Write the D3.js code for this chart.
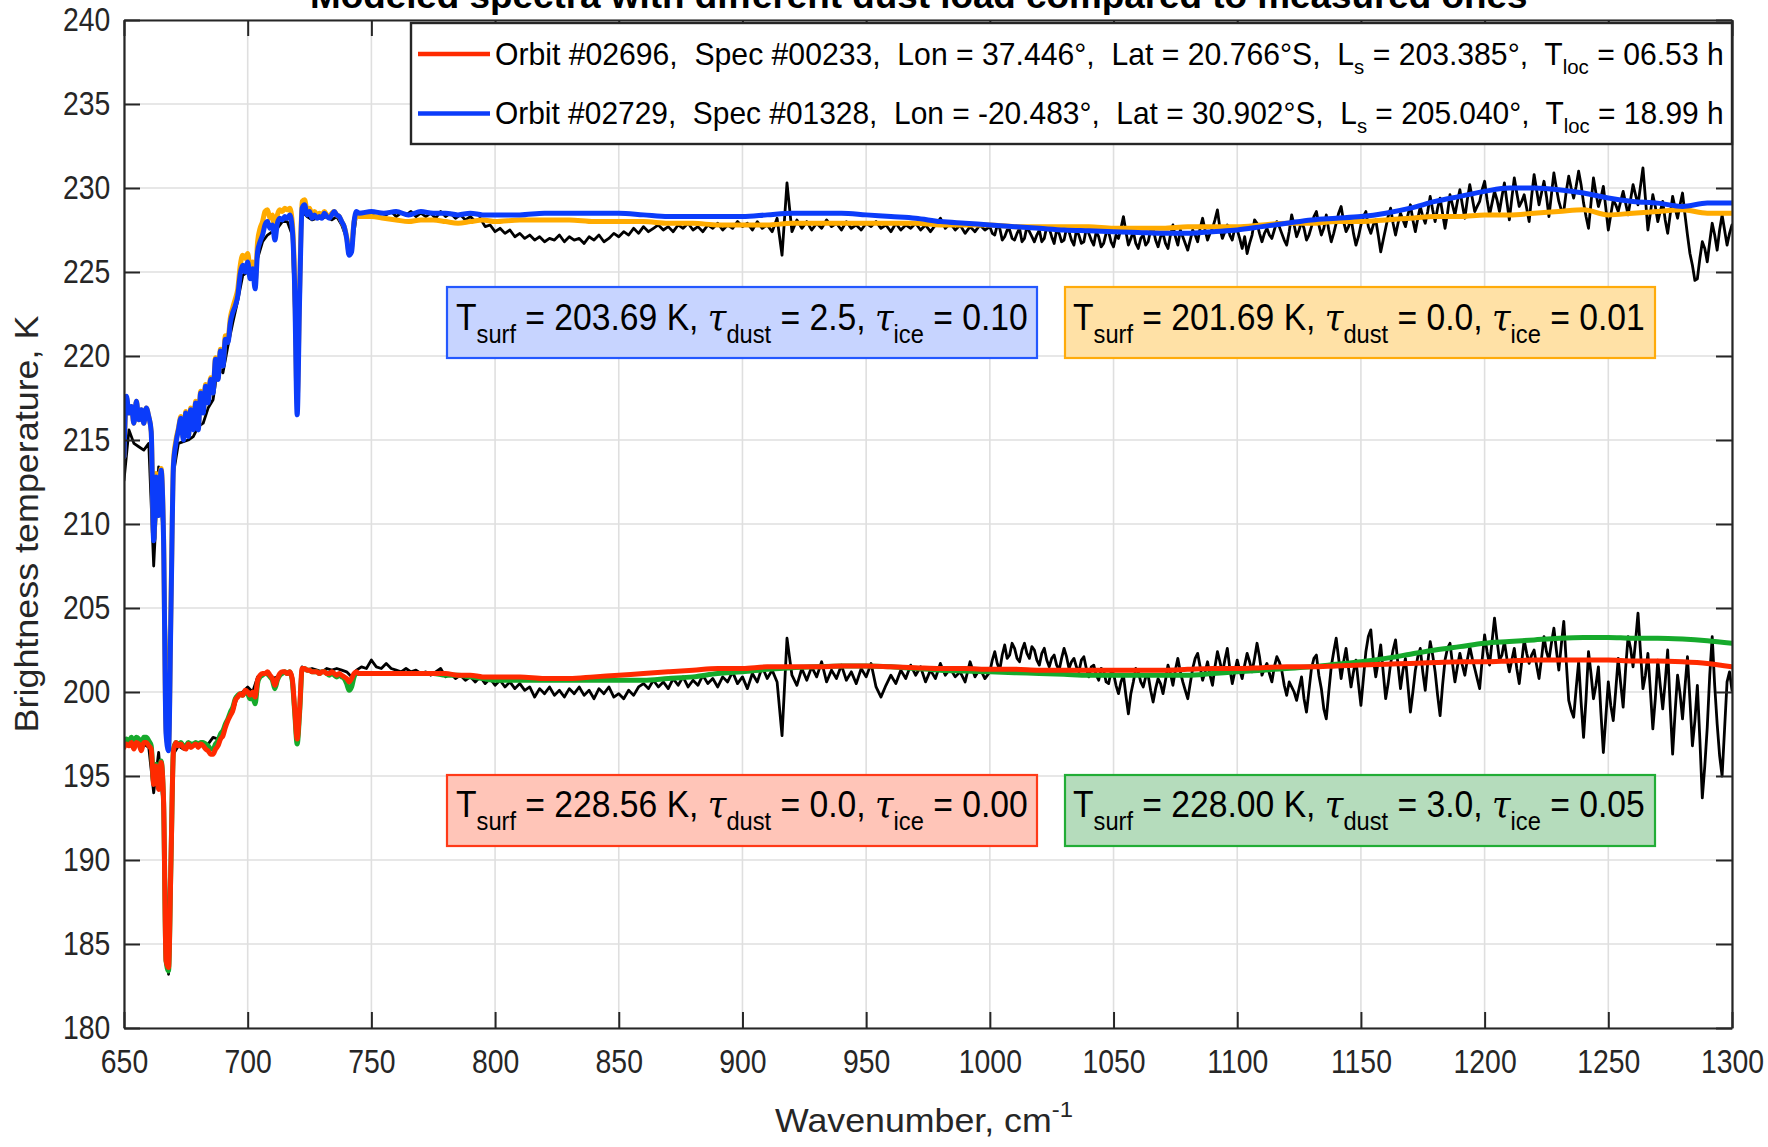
<!DOCTYPE html>
<html>
<head>
<meta charset="utf-8">
<script src="https://cdn.jsdelivr.net/npm/d3@7"></script>
<style>
  html, body { margin: 0; padding: 0; background: #fff; }
  svg text { font-family: "Liberation Sans", Arial, Helvetica, sans-serif; white-space: pre; }
</style>
</head>
<body>
<svg id="chart" width="1768" height="1147"></svg>
<script>
// ---------------------------------------------------------------------------
// Axis ticks
const xTickValues = [650, 700, 750, 800, 850, 900, 950, 1000, 1050, 1100, 1150, 1200, 1250, 1300];
const yTickValues = [180, 185, 190, 195, 200, 205, 210, 215, 220, 225, 230, 235, 240];

// Wavenumber grids (cm^-1): models are sampled finely in the CO2 band, coarser above it;
// measurements every 2 cm^-1 up to 1000, every 1 cm^-1 above
const modelNu = [...d3.range(650, 746, 1), ...d3.range(750, 801, 5), ...d3.range(810, 1301, 10)];
const measNu = [...d3.range(650, 1000, 2), ...d3.range(1000, 1301, 1)];

// Orbit #02729 model, tau_dust = 2.5 (blue)
const modelBlue = [
  214.0, 217.6, 216.6, 217.0, 216.0, 217.3, 216.2, 216.8, 216.0, 216.9,
  216.4, 215.5, 209.0, 212.8, 210.5, 213.2, 209.0, 197.5, 196.5, 205.0,
  213.5, 214.8, 215.6, 216.3, 215.0, 216.6, 215.2, 216.8, 215.6, 217.2,
  215.6, 217.8, 216.6, 218.2, 217.2, 218.6, 217.8, 219.8, 218.6, 220.3,
  219.4, 221.0, 220.8, 222.0, 222.6, 223.0, 223.6, 224.9, 225.4, 225.0,
  225.6, 224.6, 225.2, 224.0, 226.2, 226.8, 227.2, 227.8, 228.0, 227.6,
  227.8, 226.9, 227.9, 228.2, 228.1, 228.3, 228.2, 228.4, 227.6, 224.0,
  216.5, 223.5, 228.8, 229.0, 228.4, 228.6, 228.2, 228.4, 228.2, 228.3,
  228.2, 228.5, 228.3, 228.2, 228.4, 228.6, 228.4, 228.3, 228.0, 227.7,
  227.0, 226.0, 226.2, 228.0, 228.6, 228.5,
  228.6, 228.5, 228.6, 228.4, 228.6, 228.5, 228.5, 228.4, 228.5, 228.4, 228.4,
  228.4, 228.5, 228.5, 228.5, 228.5, 228.4, 228.3, 228.3, 228.3, 228.3,
  228.4, 228.5, 228.5, 228.5, 228.4, 228.3, 228.2, 228.0, 227.9, 227.8,
  227.7, 227.6, 227.5, 227.45, 227.4, 227.35, 227.3, 227.3, 227.4, 227.5,
  227.7, 227.9, 228.1, 228.2, 228.3, 228.5, 228.8, 229.2, 229.5, 229.8,
  230.0, 230.0, 229.9, 229.7, 229.4, 229.2, 229.1, 228.9, 229.1, 229.1
];

// Orbit #02729 model, tau_dust = 0.0 (orange)
const modelOrange = [
  214.0, 217.5, 216.6, 217.0, 216.0, 217.3, 216.2, 216.8, 216.0, 216.9,
  216.4, 215.5, 209.2, 213.0, 210.6, 213.3, 209.2, 197.8, 196.8, 205.3,
  213.7, 215.0, 215.7, 216.4, 215.1, 216.7, 215.3, 216.9, 215.7, 217.3,
  215.7, 217.9, 216.7, 218.3, 217.3, 218.7, 217.9, 219.9, 218.7, 220.4,
  219.6, 221.2, 221.0, 222.3, 222.9, 223.4, 224.0, 225.4, 226.0, 225.8,
  226.1, 225.2, 225.6, 224.4, 226.8, 227.6, 228.0, 228.6, 228.7, 228.2,
  228.4, 227.4, 228.4, 228.7, 228.6, 228.8, 228.7, 228.8, 228.0, 224.5,
  217.5, 224.0, 229.2, 229.3, 228.7, 228.8, 228.4, 228.6, 228.4, 228.5,
  228.4, 228.6, 228.4, 228.3, 228.5, 228.6, 228.4, 228.3, 228.0, 227.7,
  227.1, 226.2, 226.5, 228.0, 228.4, 228.3,
  228.3, 228.2, 228.1, 228.0, 228.1, 228.1, 228.0, 227.9, 228.0, 228.1, 228.0,
  228.1, 228.1, 228.1, 228.0, 228.0, 228.0, 227.9, 227.9, 227.8, 227.8,
  227.8, 227.9, 227.9, 227.9, 227.9, 227.9, 227.9, 227.8, 227.8, 227.8,
  227.7, 227.7, 227.7, 227.7, 227.6, 227.6, 227.6, 227.7, 227.7, 227.7,
  227.8, 227.9, 227.9, 228.0, 228.0, 228.1, 228.2, 228.3, 228.3, 228.4,
  228.4, 228.5, 228.6, 228.7, 228.4, 228.5, 228.6, 228.7, 228.5, 228.5
];

// Orbit #02696 model, tau_dust = 0.0 (red)
const modelRed = [
  196.7, 196.9, 196.8, 197.0, 196.6, 197.0, 196.9, 196.5, 197.0, 197.0,
  196.8, 196.6, 194.5, 195.6, 194.2, 195.8, 193.5, 184.0, 183.6, 190.0,
  196.5, 197.0, 196.8, 196.9, 196.7, 196.6, 196.9, 196.7, 196.8, 196.9,
  196.7, 196.9, 196.8, 196.6, 196.5, 196.3, 196.3, 196.6, 196.8, 197.2,
  197.4, 197.9, 198.3, 198.6, 198.9, 199.5, 199.7, 199.9, 199.8, 200.1,
  200.0, 199.8, 200.0, 199.7, 200.7, 201.0, 201.1, 201.1, 201.2, 201.0,
  200.8, 200.4, 200.8, 201.1, 201.2, 201.2, 201.1, 201.2, 200.8, 199.0,
  197.2, 199.0, 201.4, 201.4, 201.3, 201.3, 201.2, 201.2, 201.2, 201.1,
  201.2, 201.2, 201.1, 201.1, 201.2, 201.1, 201.0, 201.1, 201.0, 200.9,
  200.8, 200.6, 200.8, 201.1, 201.2, 201.1,
  201.1, 201.1, 201.1, 201.1, 201.1, 201.1, 201.1, 201.0, 201.0, 200.9, 200.9,
  200.9, 200.8, 200.8, 200.9, 201.0, 201.1, 201.2, 201.3, 201.4, 201.4,
  201.5, 201.5, 201.5, 201.55, 201.55, 201.5, 201.45, 201.4, 201.4, 201.35,
  201.35, 201.3, 201.3, 201.3, 201.3, 201.3, 201.3, 201.35, 201.4, 201.4,
  201.45, 201.5, 201.5, 201.55, 201.6, 201.65, 201.7, 201.75, 201.8, 201.8,
  201.85, 201.9, 201.9, 201.9, 201.9, 201.85, 201.85, 201.8, 201.7, 201.5
];

// Orbit #02696 model, tau_dust = 3.0 (green)
const modelGreen = [
  197.0, 197.2, 197.1, 197.3, 197.0, 197.3, 197.2, 196.9, 197.3, 197.3,
  197.1, 196.8, 194.6, 195.7, 194.3, 195.9, 193.4, 184.0, 183.4, 190.0,
  196.6, 197.0, 196.9, 197.0, 196.8, 196.8, 197.0, 196.9, 196.9, 197.0,
  196.9, 197.0, 197.0, 196.9, 196.8, 196.6, 196.6, 196.9, 197.1, 197.5,
  197.7, 198.1, 198.4, 198.8, 199.1, 199.6, 199.8, 199.9, 199.8, 200.0,
  199.9, 199.6, 199.7, 199.3, 200.5, 200.9, 201.0, 201.1, 201.1, 200.9,
  200.7, 200.2, 200.7, 201.0, 201.1, 201.2, 201.1, 201.2, 200.7, 198.8,
  196.9, 198.8, 201.3, 201.4, 201.3, 201.3, 201.2, 201.2, 201.2, 201.1,
  201.2, 201.2, 201.1, 201.0, 201.1, 201.0, 200.9, 201.0, 200.9, 200.8,
  200.5, 200.1, 200.3, 200.9, 201.1, 201.1,
  201.1, 201.1, 201.1, 201.1, 201.1, 201.1, 201.0, 201.0, 200.9, 200.8, 200.7,
  200.7, 200.7, 200.7, 200.7, 200.7, 200.7, 200.8, 200.9, 201.1, 201.2,
  201.35, 201.45, 201.5, 201.55, 201.55, 201.5, 201.4, 201.3, 201.25, 201.2,
  201.15, 201.1, 201.05, 201.0, 201.0, 201.0, 201.0, 201.0, 201.1, 201.2,
  201.3, 201.4, 201.5, 201.65, 201.8, 202.0, 202.25, 202.5, 202.7, 202.9,
  203.0, 203.1, 203.2, 203.25, 203.25, 203.2, 203.2, 203.15, 203.05, 202.9
];

// Measured spectrum, orbit #02729 (black, upper)
const measuredTop = [
  // 650 - 998, every 2 cm^-1
  212.6, 215.6, 214.8, 214.6, 214.4, 214.8, 207.5, 213.4, 209.0, 196.8,
  213.0, 214.8, 214.9, 215.0, 215.2, 215.8, 216.0, 216.9, 217.4, 219.4,
  219.0, 220.6, 222.0, 223.3, 224.8, 225.0, 224.6, 225.8, 226.8, 227.2,
  227.4, 227.6, 228.0, 228.0, 227.2, 217.2, 228.6, 228.3, 228.1, 228.2,
  228.2, 228.3, 228.1, 228.3, 227.8, 227.0, 226.3, 228.4, 228.5, 228.6,
  228.4, 228.6, 228.5, 228.4, 228.6, 228.3, 228.5, 228.4, 228.6, 228.3,
  228.5, 228.3, 228.5, 228.2, 228.6, 228.3, 228.5, 228.2, 228.4, 228.1,
  228.3, 228.0, 228.2, 227.7, 227.8, 227.4, 227.6, 227.3, 227.5, 227.1,
  227.3, 227.0, 227.2, 226.9, 227.1, 226.8, 227.0, 226.9, 227.2, 226.8,
  227.1, 226.9, 227.0, 226.7, 227.1, 226.9, 227.2, 226.8, 227.0, 227.3,
  227.1, 227.4, 227.2, 227.6, 227.3, 227.7, 227.4, 227.6, 227.8, 227.5,
  227.7, 227.4, 227.8, 227.6, 227.9, 227.5, 227.7, 227.4, 227.8, 227.6,
  227.9, 227.5, 227.8, 227.6, 228.0, 227.7, 227.9, 227.5, 228.0, 227.6,
  227.8, 227.4, 228.2, 226.0, 230.3, 227.4, 228.1, 227.6, 228.0, 227.5,
  227.9, 227.6, 228.1, 227.7, 227.9, 227.5, 228.0, 227.6, 227.8, 227.5,
  227.9, 227.7, 228.0, 227.6, 227.8, 227.4, 227.9, 227.5, 227.8, 227.6,
  227.9, 227.5, 227.8, 227.4, 227.8, 228.2, 227.6, 227.9, 227.5, 227.8,
  227.3, 227.7, 227.4, 227.8, 227.5,
  // 1000 - 1300, every 1 cm^-1
  227.7, 227.3, 227.2, 227.8, 227.6, 226.9, 227.1, 227.5, 227.5, 227.0,
  226.9, 227.3, 227.6, 226.8, 227.0, 227.7, 227.4, 227.1, 226.8, 227.2,
  227.5, 226.8, 227.0, 227.7, 227.6, 227.1, 226.7, 227.5, 227.3, 226.8,
  226.9, 227.6, 227.4, 226.9, 226.6, 227.5, 227.2, 226.7, 226.8, 227.6,
  227.3, 226.9, 226.6, 227.4, 227.1, 226.5, 226.7, 227.3, 227.4, 226.8,
  226.5, 227.2, 227.0, 227.6, 228.3, 227.4, 226.6, 227.0, 227.4, 226.7,
  226.4, 227.0, 227.2, 226.6, 226.8, 227.5, 227.6, 226.9, 226.5, 227.1,
  227.3, 226.7, 226.4, 227.2, 227.8, 227.1, 226.6, 227.5, 227.1, 226.7,
  226.3, 226.9, 227.5, 227.2, 226.8, 227.6, 228.2, 227.5, 226.9, 227.3,
  227.6, 228.1, 228.7, 227.6, 227.0, 227.4, 227.8, 227.2, 226.9, 227.6,
  227.5, 227.0, 226.4, 227.1, 226.1, 226.7, 227.2, 228.1, 227.9, 227.3,
  226.8, 227.3, 227.6, 227.2, 227.0, 227.5, 228.0, 227.7, 227.3, 226.9,
  226.6, 227.4, 228.4, 227.8, 227.1, 227.5, 228.0, 227.6, 226.9, 227.2,
  227.7, 228.3, 228.6, 227.8, 227.2, 227.6, 228.4, 227.5, 226.8, 227.3,
  227.9, 228.5, 228.9, 228.0, 227.4, 227.7, 228.2, 227.3, 226.6, 227.1,
  227.8, 228.3, 228.6, 227.7, 227.3, 227.8, 228.1, 227.2, 226.2, 226.9,
  227.6, 228.3, 228.8, 227.9, 227.2, 227.9, 228.5, 228.1, 227.7, 228.4,
  229.0, 228.1, 227.4, 228.2, 228.9, 228.3, 227.9, 228.6, 229.5, 228.7,
  228.0, 228.8, 229.4, 228.5, 227.6, 228.5, 229.6, 229.0, 228.4, 229.2,
  229.9, 229.0, 228.2, 229.3, 230.2, 229.4, 228.6, 228.9, 229.2, 229.9,
  230.4, 229.3, 228.4, 229.1, 229.8, 229.3, 228.6, 229.5, 230.3, 229.2,
  228.1, 229.4, 230.6, 229.7, 228.9, 229.2, 229.6, 228.8, 228.0, 229.5,
  230.8, 229.9, 229.0, 229.7, 230.4, 229.5, 228.3, 229.6, 230.9, 230.0,
  229.2, 228.7, 228.6, 229.8, 230.7, 230.0, 229.4, 230.1, 231.0, 230.2,
  229.1, 228.3, 227.6, 229.1, 230.6, 229.7, 228.9, 229.4, 230.1, 228.8,
  227.5, 228.4, 229.3, 229.0, 228.6, 229.2, 229.8, 229.1, 228.4, 229.3,
  230.2, 229.6, 229.0, 230.1, 231.2, 229.4, 227.5, 228.5, 229.6, 228.9,
  228.0, 228.6, 229.2, 228.1, 227.3, 228.4, 229.5, 228.8, 228.2, 229.0,
  229.7, 228.4, 227.2, 226.1, 225.4, 224.5, 224.6, 225.8, 226.8, 226.4,
  225.6, 226.8, 227.9, 227.2, 226.3, 227.5, 228.4, 227.5, 226.6, 227.3,
  227.8
];

// Measured spectrum, orbit #02696 (black, lower)
const measuredBottom = [
  // 650 - 998, every 2 cm^-1
  196.8, 197.0, 196.7, 197.1, 196.9, 196.7, 194.0, 196.4, 193.0, 183.2,
  196.3, 196.8, 196.6, 196.8, 196.9, 196.8, 196.9, 196.9, 197.3, 197.2,
  197.7, 198.3, 198.8, 199.8, 200.0, 200.3, 200.0, 200.9, 201.1, 201.0,
  200.8, 200.9, 201.1, 201.2, 200.9, 197.0, 201.5, 201.3, 201.4, 201.3,
  201.2, 201.4, 201.3, 201.4, 201.3, 201.2, 200.9, 201.3, 201.5, 201.4,
  201.9, 201.5, 201.4, 201.7, 201.4, 201.3, 201.2, 201.4, 201.2, 201.3,
  201.1, 201.2, 201.0, 201.2, 201.4, 200.9, 201.1, 200.8, 201.0, 200.7,
  200.9, 200.6, 200.9, 200.5, 200.8, 200.4, 200.7, 200.3, 200.6, 200.2,
  200.5, 200.1, 200.3, 199.7, 200.2, 199.9, 200.3, 199.8, 200.1, 199.7,
  200.2, 199.9, 200.3, 199.8, 200.1, 199.6, 200.2, 199.9, 200.3, 199.7,
  199.9, 199.6, 200.1, 199.8, 200.3, 200.5, 200.2, 200.7, 200.3, 200.6,
  200.2, 200.8, 200.4, 200.9, 200.3, 200.7, 200.4, 201.0, 200.5, 200.8,
  200.3, 200.9, 200.6, 201.2, 200.5, 200.9, 200.2, 201.1, 200.6, 201.5,
  200.8, 201.3, 200.6, 197.4, 203.2, 201.0, 200.4, 201.4, 200.7, 201.5,
  200.9, 201.8, 200.6, 201.3, 200.8, 201.6, 200.7, 201.2, 200.5, 201.4,
  200.9, 201.7, 200.3, 199.7, 200.4, 201.0, 200.5, 201.3, 200.8, 201.6,
  201.0, 201.5, 200.6, 201.3, 200.8, 201.7, 201.0, 201.4, 200.9, 201.2,
  200.6, 201.8, 200.9, 201.4, 200.8,
  // 1000 - 1300, every 1 cm^-1
  201.2, 201.9, 202.4, 201.7, 201.3, 202.2, 202.8, 202.0, 202.2, 202.9,
  202.6, 202.0, 201.8, 202.5, 202.9, 202.3, 202.0, 202.7, 202.5, 201.9,
  201.6, 202.3, 202.6, 201.9, 201.5, 202.0, 202.2, 201.6, 201.3, 202.0,
  202.6, 202.1, 201.4, 201.8, 202.0, 201.5, 201.2, 201.9, 202.1, 201.4,
  200.9, 201.5, 201.6, 201.0, 200.7, 201.4, 201.3, 200.6, 200.5, 201.2,
  201.1, 200.4, 199.9, 200.6, 201.0, 199.8, 198.7, 199.9, 200.6, 201.4,
  201.2, 200.6, 200.3, 200.9, 201.0, 200.1, 199.4, 200.2, 200.8, 200.5,
  199.9, 200.7, 201.6, 201.1, 200.4, 201.3, 202.0, 201.2, 200.6, 200.1,
  199.6, 200.5, 201.4, 202.0, 202.3, 201.5, 200.7, 201.2, 201.8, 201.0,
  200.4, 201.5, 202.4, 201.8, 201.1, 201.9, 202.6, 201.4, 200.5, 201.2,
  201.9, 201.3, 200.8, 201.6, 202.3, 201.8, 201.2, 202.0, 202.9, 202.1,
  201.0, 201.4, 201.7, 201.1, 200.6, 201.5, 202.1, 201.8, 201.3, 200.4,
  199.8, 200.6, 200.3, 200.0, 199.5, 200.2, 200.9, 199.6, 198.8, 200.1,
  201.4, 202.0, 202.2, 201.0, 200.2, 199.0, 198.4, 200.0, 201.5, 202.4,
  203.2, 202.0, 200.8, 201.8, 202.6, 201.4, 200.3, 201.2, 201.9, 200.5,
  199.2, 200.8, 202.4, 203.3, 203.7, 202.0, 200.9, 201.8, 202.8, 201.2,
  199.6, 200.5, 201.7, 202.5, 203.1, 201.6, 200.2, 201.3, 202.0, 200.4,
  198.8, 200.0, 201.3, 202.1, 202.6, 201.2, 200.1, 201.7, 203.0, 202.2,
  201.2, 199.8, 198.6, 200.4, 201.9, 202.6, 202.9, 201.7, 200.6, 201.5,
  202.3, 201.6, 201.0, 201.9, 202.7, 202.0, 201.4, 200.8, 200.2, 201.9,
  203.4, 202.4, 201.6, 203.0, 204.4, 203.1, 201.9, 202.2, 203.0, 202.0,
  201.2, 201.9, 202.6, 201.4, 200.5, 201.8, 203.1, 202.3, 201.7, 202.2,
  202.5, 201.6, 200.8, 202.0, 203.3, 202.4, 201.9, 202.9, 203.8, 202.5,
  201.3, 202.8, 204.2, 201.8, 199.5, 198.9, 198.5, 200.2, 201.8, 199.4,
  197.3, 199.6, 202.4, 201.1, 199.6, 200.4, 201.5, 198.8, 196.4, 198.5,
  200.6, 199.2, 198.3, 200.1, 202.0, 200.5, 199.1, 201.4, 203.3, 202.6,
  201.5, 203.0, 204.7, 202.4, 200.2, 201.0, 202.3, 200.1, 197.8, 199.6,
  201.9, 200.4, 199.0, 200.6, 202.5, 199.2, 196.3, 198.8, 201.0, 199.9,
  198.4, 200.3, 202.1, 199.5, 196.8, 198.3, 200.4, 197.2, 193.7, 195.6,
  197.9, 201.0, 203.3, 200.4, 198.1, 196.2, 195.0, 197.8, 200.6, 201.2,
  200.1
];

// Legend entries and fitted-parameter labels
const legendEntries = [
  { orbit: "02696", spec: "00233", lon: "37.446", lat: "20.766", ls: "203.385", tloc: "06.53", color: "#ff2a00" },
  { orbit: "02729", spec: "01328", lon: "-20.483", lat: "30.902", ls: "205.040", tloc: "18.99", color: "#0b3cfa" }
];
const fitLabels = [
  { tsurf: "203.69", dust: "2.5", ice: "0.10", fill: "#c7d4ff", stroke: "#2458ff" },
  { tsurf: "201.69", dust: "0.0", ice: "0.01", fill: "#ffe1a6", stroke: "#ffab0a" },
  { tsurf: "228.56", dust: "0.0", ice: "0.00", fill: "#ffc5b8", stroke: "#ff3a18" },
  { tsurf: "228.00", dust: "3.0", ice: "0.05", fill: "#b5dcbc", stroke: "#21ad36" }
];

// ---------------------------------------------------------------------------
const plot = { left: 124, right: 1732, top: 20, bottom: 1028 };
const axisColor = "#262626";
const gridColor = "#dfdfdf";

const x = d3.scaleLinear().domain([650, 1300]).range([plot.left, plot.right]);
const y = d3.scaleLinear().domain([180, 240]).range([plot.bottom, plot.top]);

const svg = d3.select("#chart");

// Squeeze a text element horizontally so its width matches the target
function fitWidth(sel, x0, width) {
  const bb = sel.node().getBBox();
  const k = width / bb.width;
  sel.attr("transform", `translate(${x0},0) scale(${k},1) translate(${-bb.x},0)`);
}

// Grid
const grid = svg.append("g");
grid.selectAll("line.gx").data(xTickValues).join("line")
  .attr("x1", d => x(d)).attr("x2", d => x(d))
  .attr("y1", plot.top).attr("y2", plot.bottom)
  .attr("stroke", gridColor).attr("stroke-width", 1.6);
grid.selectAll("line.gy").data(yTickValues).join("line")
  .attr("x1", plot.left).attr("x2", plot.right)
  .attr("y1", d => y(d)).attr("y2", d => y(d))
  .attr("stroke", gridColor).attr("stroke-width", 1.6);

// Spectra
svg.append("clipPath").attr("id", "plotClip").append("rect")
  .attr("x", plot.left).attr("y", plot.top)
  .attr("width", plot.right - plot.left).attr("height", plot.bottom - plot.top);

const lines = svg.append("g").attr("clip-path", "url(#plotClip)");
function drawSeries(nu, values, color, width, curve) {
  const gen = d3.line().x((d, i) => x(nu[i])).y(d => y(d)).curve(curve);
  lines.append("path").attr("d", gen(values))
    .attr("fill", "none").attr("stroke", color).attr("stroke-width", width)
    .attr("stroke-linejoin", "round").attr("stroke-linecap", "round");
}
drawSeries(measNu, measuredTop, "#000", 2.8, d3.curveLinear);
drawSeries(measNu, measuredBottom, "#000", 2.8, d3.curveLinear);
drawSeries(modelNu, modelOrange, "#ffab00", 5, d3.curveMonotoneX);
drawSeries(modelNu, modelBlue, "#0b3cfa", 5, d3.curveMonotoneX);
drawSeries(modelNu, modelGreen, "#16aa2c", 5, d3.curveMonotoneX);
drawSeries(modelNu, modelRed, "#ff2a00", 5, d3.curveMonotoneX);

// Axes (ticks point inward, box on all four sides)
const tickLen = 16;
const gx = svg.append("g").attr("transform", `translate(0,${plot.bottom})`)
  .call(d3.axisBottom(x).tickValues(xTickValues).tickFormat(d3.format("d"))
    .tickSizeInner(-tickLen).tickSizeOuter(0).tickPadding(22));
const gy = svg.append("g").attr("transform", `translate(${plot.left},0)`)
  .call(d3.axisLeft(y).tickValues(yTickValues).tickFormat(d3.format("d"))
    .tickSizeInner(-tickLen).tickSizeOuter(0).tickPadding(16));
const gt = svg.append("g").attr("transform", `translate(0,${plot.top})`)
  .call(d3.axisTop(x).tickValues(xTickValues).tickSizeInner(-tickLen).tickSizeOuter(0).tickFormat(""));
const gr = svg.append("g").attr("transform", `translate(${plot.right},0)`)
  .call(d3.axisRight(y).tickValues(yTickValues).tickSizeInner(-tickLen).tickSizeOuter(0).tickFormat(""));

[gx, gy, gt, gr].forEach(g => {
  g.select(".domain").attr("stroke", axisColor).attr("stroke-width", 2.2);
  g.selectAll(".tick line").attr("stroke", axisColor).attr("stroke-width", 2);
  g.selectAll(".tick text")
    .attr("fill", axisColor)
    .style("font-family", '"Liberation Sans", Arial, sans-serif')
    .style("font-size", "33px");
});
gx.selectAll(".tick text").attr("transform", "scale(0.86,1)");
gy.selectAll(".tick text").attr("transform", "scale(0.86,1)");

// Axis labels
const xLabel = svg.append("text").attr("x", 0).attr("y", 1132)
  .attr("fill", axisColor).style("font-size", "33px");
xLabel.append("tspan").text("Wavenumber, cm");
xLabel.append("tspan").attr("y", 1117).style("font-size", "22px").text("-1");
fitWidth(xLabel, 775, 298);

const yLabel = svg.append("text").attr("x", 0).attr("y", 0)
  .attr("text-anchor", "middle").attr("fill", axisColor).style("font-size", "33px")
  .text("Brightness temperature, K");
{
  const w = yLabel.node().getBBox().width;
  yLabel.attr("transform", `translate(38,524) rotate(-90) scale(${417 / w},1)`);
}

// Title (sits above the top edge of the canvas)
const title = svg.append("text").attr("x", 0).attr("y", 8)
  .style("font-size", "36px").style("font-weight", "bold").attr("fill", "#000")
  .text("Modeled spectra with different dust load compared to measured ones");
fitWidth(title, 310, 1218);

// Legend
const legend = svg.append("g");
legend.append("rect").attr("x", 411).attr("y", 23).attr("width", 1321).attr("height", 121)
  .attr("fill", "#fff").attr("stroke", axisColor).attr("stroke-width", 2.4);
legendEntries.forEach((e, i) => {
  const cy = 54 + i * 59.5;
  legend.append("line").attr("x1", 418).attr("x2", 490).attr("y1", cy).attr("y2", cy)
    .attr("stroke", e.color).attr("stroke-width", 4.5);
  const base = cy + 11;
  const t = legend.append("text").attr("x", 0).attr("y", base).style("font-size", "31px").attr("fill", "#000");
  t.append("tspan").text(`Orbit #${e.orbit},  Spec #${e.spec},  Lon = ${e.lon}°,  Lat = ${e.lat}°S,  L`);
  t.append("tspan").attr("y", base + 9).style("font-size", "21px").text("s");
  t.append("tspan").attr("y", base).text(` = ${e.ls}°,  T`);
  t.append("tspan").attr("y", base + 9).style("font-size", "21px").text("loc");
  t.append("tspan").attr("y", base).text(` = ${e.tloc} h`);
  fitWidth(t, 495, 1229);
});

// Fitted-parameter boxes
const boxPos = [
  { x: 447, y: 287, textX: 456, base: 330 },
  { x: 1065, y: 287, textX: 1073, base: 330 },
  { x: 447, y: 775, textX: 456, base: 817 },
  { x: 1065, y: 775, textX: 1073, base: 817 }
];
fitLabels.forEach((f, i) => {
  const p = boxPos[i];
  svg.append("rect").attr("x", p.x).attr("y", p.y).attr("width", 590).attr("height", 71)
    .attr("fill", f.fill).attr("stroke", f.stroke).attr("stroke-width", 2.2);
  const t = svg.append("text").attr("x", 0).attr("y", p.base).style("font-size", "37px").attr("fill", "#000");
  const sub = (s) => t.append("tspan").attr("y", p.base + 13).style("font-size", "26px").text(s);
  const main = (s) => t.append("tspan").attr("y", p.base).text(s);
  const tau = () => t.append("tspan").attr("y", p.base)
    .style("font-family", '"DejaVu Serif", "Liberation Serif", serif').style("font-style", "italic").text("τ");
  main("T"); sub("surf"); main(` = ${f.tsurf} K, `);
  tau(); sub("dust"); main(` = ${f.dust}, `);
  tau(); sub("ice"); main(` = ${f.ice}`);
  fitWidth(t, p.textX, 572);
});
</script>
</body>
</html>
